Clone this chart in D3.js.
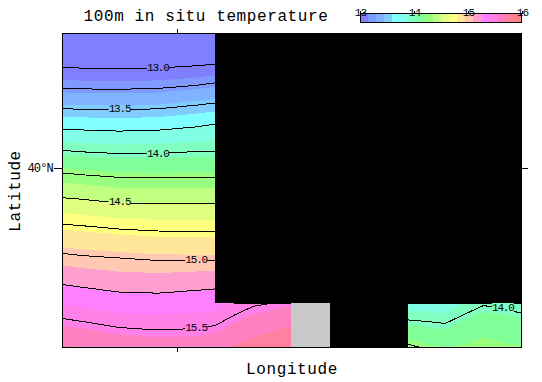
<!DOCTYPE html>
<html>
<head>
<meta charset="utf-8">
<script src="https://cdn.jsdelivr.net/npm/d3@7"></script>
<style>
body { margin: 0; background: #fff; }
text { font-family: "Liberation Mono", monospace; fill: #000; }
</style>
</head>
<body>
<div id="chart"></div>
<script>
const _ = NaN

const titleText = '100m in situ temperature'
const xLabel = 'Longitude'
const yLabel = 'Latitude'

// grid nodes, degrees (longitude is unlabelled in the picture, so relative to its one tick)
const lons = [ -1.5, -1.25, -0.75, -0.25, 0.25, 0.5, 0.75, 1, 1.25, 1.5, 2, 3, 3.25, 3.5, 3.75, 4, 4.25, 4.5 ]
const lats = [ 41.5, 41.25, 41, 40.75, 40.5, 40.25, 40, 39.75, 39.5, 39.25, 39, 38.75, 38.5, 38.25, 38 ]

// temperature, west block: one row per latitude, lons[0..5]
const tempWest = [
    [ 12.59, 12.58, 12.58, 12.58, 12.6, 12.62 ],
    [ 12.86, 12.85, 12.845, 12.85, 12.87, 12.88 ],
    [ 13.127, 13.118, 13.11, 13.12, 13.155, 13.19 ],
    [ 13.4, 13.39, 13.39, 13.4, 13.445, 13.47 ],
    [ 13.68, 13.67, 13.66, 13.67, 13.71, 13.74 ],
    [ 13.945, 13.93, 13.91, 13.92, 13.94, 13.94 ],
    [ 14.2, 14.18, 14.16, 14.156, 14.16, 14.16 ],
    [ 14.43, 14.415, 14.375, 14.37, 14.375, 14.375 ],
    [ 14.65, 14.635, 14.6, 14.59, 14.585, 14.585 ],
    [ 14.85, 14.84, 14.81, 14.79, 14.785, 14.785 ],
    [ 15.04, 15.02, 15, 14.98, 14.98, 14.98 ],
    [ 15.22, 15.2, 15.165, 15.16, 15.18, 15.19 ],
]
// temperature, southern strip: all lons
const tempSouth = [
    [ 15.39, 15.37, 15.33, 15.32, 15.34, 15.35, 15.42, 15.48, 15.5, 15.53, _, 13.82, 13.82, 13.8, 13.9, 13.98, 13.95, 13.9 ],
    [ 15.55, 15.53, 15.485, 15.47, 15.48, 15.5, 15.57, 15.62, 15.66, 15.7, _, 14.06, 14.04, 14.02, 14.1, 14.16, 14.14, 14.12 ],
    [ 15.72, 15.69, 15.65, 15.62, 15.63, 15.65, 15.72, 15.78, 15.82, 15.86, _, 14.29, 14.24, 14.2, 14.22, 14.24, 14.22, 14.21 ],
]

const fillLevels = [ 13, 13.15, 13.3, 13.45, 13.6, 13.75, 13.9, 14.05, 14.2, 14.35, 14.5, 14.65, 14.8, 14.95, 15.1, 15.25, 15.4, 15.55, 15.7, 15.85 ]
const fillColors = [ '#8080ff', '#8099ff', '#80b3ff', '#80ccff', '#80ffff', '#80ffe6', '#80ffc0', '#80ff99', '#99ff80', '#c0ff80',
    '#e0ff80', '#ffff80', '#ffe699', '#ffc8b3', '#ff9fd0', '#ff80ff', '#ff80e6', '#ff80c0', '#ff80a0', '#ff8080' ]
const barEnd = 16
const barTicks = [ 13, 14, 15, 16 ]

const lineLevels = [ 13, 13.25, 13.5, 13.75, 14, 14.25, 14.5, 14.75, 15, 15.25, 15.5 ]

const labelText = [ '13.0', '13.5', '14.0', '14.5', '15.0', '15.5', '14.0' ]
const labelLon = [ -0.25, -0.75, -0.25, -0.75, 0.25, 0.25, 4.25 ]
const labelLat = [ 41.12, 40.67, 40.17, 39.63, 38.99, 38.23, 38.45 ]

// lon0, lon1, lat0, lat1, colour
const maskBoxes = [
    [ 0.5, 4.5, 38.5, 41.5, '#000' ],
    [ 2, 3, 38, 38.5, '#000' ],
    [ 1.49, 2, 38, 38.5, '#c8c8c8' ],
]

const xTicks = [ 0 ]
const yTicks = [ 40 ]

const width = 542, height = 382
const margin = { top: 33, right: 20, bottom: 34, left: 62 }
const x1 = width - margin.right, y1 = height - margin.bottom

const x = d3.scaleLinear().domain([ -1.5, 4.5 ]).range([ margin.left, x1 ])
const y = d3.scaleLinear().domain([ 38, 41.5 ]).range([ y1, margin.top ])

const lonAt = d3.scaleLinear().domain(d3.range(lons.length)).range(lons).clamp(true)
const latAt = d3.scaleLinear().domain(d3.range(lats.length)).range(lats).clamp(true)

const values = tempWest.flatMap(r => r.concat(d3.range(lons.length - r.length).map(() => _)))
    .concat(tempSouth.flat())

const contours = d3.contours().size([ lons.length, lats.length ])
const path = d3.geoPath(d3.geoTransform({
    point (cx, cy) {
        this.stream.point(x(lonAt(cx - 0.5)), y(latAt(cy - 0.5)))
    },
}))

const svg = d3.select('#chart').append('svg')
    .attr('width', width)
    .attr('height', height)
    .style('display', 'block')

const defs = svg.append('defs')
defs.append('clipPath').attr('id', 'plot')
    .append('rect')
    .attr('x', margin.left).attr('y', margin.top)
    .attr('width', x1 - margin.left).attr('height', y1 - margin.top)

// contour lines stop at their labels
const gaps = defs.append('mask').attr('id', 'gaps').attr('maskUnits', 'userSpaceOnUse')
    .attr('x', 0).attr('y', 0).attr('width', width).attr('height', height)
gaps.append('rect').attr('width', width).attr('height', height).attr('fill', '#fff')
gaps.selectAll('rect.gap')
    .data(labelText)
    .join('rect')
    .attr('class', 'gap')
    .attr('x', (d, i) => x(labelLon[i]) - 11)
    .attr('y', (d, i) => y(labelLat[i]) - 6)
    .attr('width', 22)
    .attr('height', 12)
    .attr('fill', '#000')

const plot = svg.append('g').attr('clip-path', 'url(#plot)')

// below the first level keeps the first colour
const fillThresholds = [ 12 ].concat(fillLevels.slice(1))
plot.append('g')
    .attr('shape-rendering', 'crispEdges')
    .selectAll('path')
    .data(contours.thresholds(fillThresholds)(values))
    .join('path')
    .attr('d', path)
    .attr('fill', (d, i) => fillColors[i])

plot.append('g')
    .attr('mask', 'url(#gaps)')
    .attr('shape-rendering', 'crispEdges')
    .selectAll('path')
    .data(contours.thresholds(lineLevels)(values))
    .join('path')
    .attr('d', path)
    .attr('fill', 'none')
    .attr('stroke', '#000')
    .attr('stroke-width', 1)

plot.append('g')
    .attr('shape-rendering', 'crispEdges')
    .selectAll('rect')
    .data(maskBoxes)
    .join('rect')
    .attr('x', d => x(d[0]))
    .attr('y', d => y(d[3]))
    .attr('width', d => x(d[1]) - x(d[0]))
    .attr('height', d => y(d[2]) - y(d[3]))
    .attr('fill', d => d[4])

plot.append('g')
    .selectAll('text')
    .data(labelText)
    .join('text')
    .attr('x', (d, i) => x(labelLon[i]))
    .attr('y', (d, i) => y(labelLat[i]))
    .attr('dy', '0.35em')
    .attr('text-anchor', 'middle')
    .attr('font-size', 11)
    .attr('letter-spacing', -1.2)
    .text(d => d)

// frame and the single ticks
svg.append('rect')
    .attr('x', margin.left + 0.5).attr('y', margin.top + 0.5)
    .attr('width', x1 - margin.left - 1).attr('height', y1 - margin.top - 1)
    .attr('fill', 'none').attr('stroke', '#000')
    .attr('shape-rendering', 'crispEdges')

const noLabels = g => {
    g.select('.domain').remove()
    g.selectAll('.tick line').attr('stroke', '#000').attr('shape-rendering', 'crispEdges')
}

svg.append('g')
    .attr('transform', `translate(0,${ y1 })`)
    .call(d3.axisBottom(x).tickValues(xTicks).tickSize(4).tickFormat(''))
    .call(noLabels)
svg.append('g')
    .attr('transform', `translate(0,${ margin.top })`)
    .call(d3.axisTop(x).tickValues(xTicks).tickSize(4).tickFormat(''))
    .call(noLabels)
svg.append('g')
    .attr('transform', `translate(${ x1 },0)`)
    .call(d3.axisRight(y).tickValues(yTicks).tickSize(6).tickFormat(''))
    .call(noLabels)
svg.append('g')
    .attr('transform', `translate(${ margin.left },0)`)
    .call(d3.axisLeft(y).tickValues(yTicks).tickSize(8).tickPadding(1).tickFormat(d => `${ d }°N`))
    .call(noLabels)
    .call(g => g.selectAll('text')
        .attr('font-family', '"Liberation Mono", monospace')
        .attr('font-size', 12)
        .attr('letter-spacing', -0.8))

// title and axis labels
svg.append('text')
    .attr('x', 206).attr('y', 21)
    .attr('text-anchor', 'middle')
    .attr('font-size', 16)
    .attr('letter-spacing', 0.6)
    .text(titleText)
svg.append('text')
    .attr('x', 292).attr('y', 374)
    .attr('text-anchor', 'middle')
    .attr('font-size', 16)
    .attr('letter-spacing', 0.6)
    .text(xLabel)
svg.append('text')
    .attr('transform', 'translate(20,191) rotate(-90)')
    .attr('text-anchor', 'middle')
    .attr('font-size', 16)
    .attr('letter-spacing', 0.6)
    .text(yLabel)

// colour bar
const barX = d3.scaleLinear().domain([ 13, barEnd ]).range([ 360, 522 ])
const barTop = 14, barBottom = 23
const bar = svg.append('g')
bar.append('g')
    .attr('shape-rendering', 'crispEdges')
    .selectAll('rect')
    .data(fillLevels)
    .join('rect')
    .attr('x', d => barX(d))
    .attr('y', barTop)
    .attr('width', (d, i) => barX(i + 1 < fillLevels.length ? fillLevels[i + 1] : barEnd) - barX(d))
    .attr('height', barBottom - barTop)
    .attr('fill', (d, i) => fillColors[i])
bar.append('rect')
    .attr('x', 360.5).attr('y', barTop - 0.5)
    .attr('width', 161).attr('height', barBottom - barTop)
    .attr('fill', 'none').attr('stroke', '#000')
    .attr('shape-rendering', 'crispEdges')
bar.append('g')
    .attr('transform', `translate(0,${ barTop })`)
    .call(d3.axisTop(barX).tickValues(barTicks).tickSize(3).tickPadding(-5).tickFormat(d3.format('d')))
    .call(noLabels)
    .call(g => g.selectAll('text')
        .attr('font-family', '"Liberation Mono", monospace')
        .attr('font-size', 11)
        .attr('letter-spacing', -0.8))
</script>
</body>
</html>
